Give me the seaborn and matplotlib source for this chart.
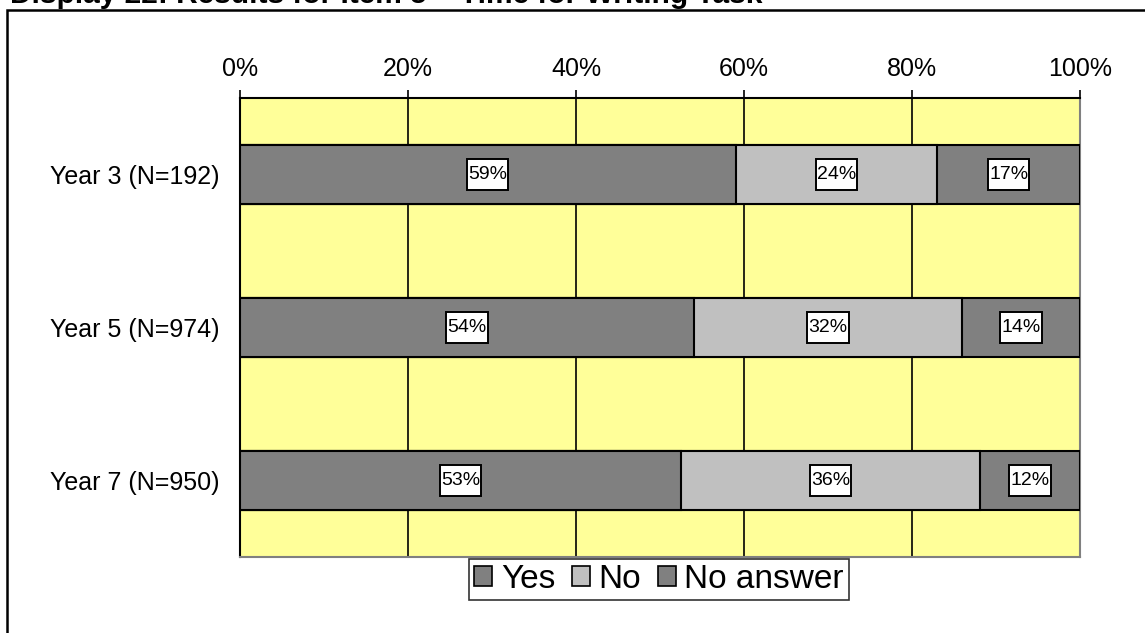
import matplotlib
matplotlib.use("Agg")
import numpy as np
import pandas as pd
import matplotlib.pyplot as plt
import matplotlib.patches as mpatches
from matplotlib.path import Path
import seaborn as sns

# Data
groups = ["Year 3 (N=192)", "Year 5 (N=974)", "Year 7 (N=950)"]
yes = [59, 54, 53]
no = [24, 32, 36]
no_answer = [17, 14, 12]
series_names = ["Yes", "No", "No answer"]
colors = ["#808080", "#C0C0C0", "#808080"]

df = pd.DataFrame({"Group": groups, "Yes": yes, "No": no, "No answer": no_answer})
total = df[series_names].sum(axis=1)
share = df[series_names].div(total, axis=0)
cum = share.cumsum(axis=1)

sns.set_style("white")
plt.rcParams["font.family"] = ["Liberation Sans", "DejaVu Sans"]
plt.rcParams["text.color"] = "black"
plt.rcParams["xtick.color"] = "black"
plt.rcParams["ytick.color"] = "black"


def tall_box(x0, y0, width, height, mutation_size):
    # label box: tight at the sides, roomy above and below
    px = 0.06 * mutation_size
    py = 0.34 * mutation_size
    return Path([(x0 - px, y0 - py), (x0 + width + px, y0 - py),
                 (x0 + width + px, y0 + height + py), (x0 - px, y0 + height + py),
                 (x0 - px, y0 - py)], closed=True)


fig = plt.figure(figsize=(11.45, 6.33), dpi=100)
ax = fig.add_axes([240 / 1145, 1 - 557 / 633, 840 / 1145, 459 / 633])
ax.set_facecolor("#FFFF99")

# stacked: draw cumulative totals from the back
for name, col in reversed(list(zip(series_names, colors))):
    sns.barplot(x=cum[name], y=df["Group"], orient="h", color=col, width=0.385,
                edgecolor="black", linewidth=1.5, saturation=1, ax=ax, zorder=3)

# value labels in white boxes
for i in range(len(groups)):
    start = 0
    for name in series_names:
        w = share.loc[i, name]
        ax.text(start + w / 2, i, f"{df.loc[i, name]}%", ha="center", va="center",
                fontsize=14, color="black", zorder=5,
                bbox=dict(boxstyle=tall_box, facecolor="white", edgecolor="black", linewidth=1.4))
        start += w

ax.set_xlim(0, 1)
ax.set_ylim(2.5, -0.5)
ax.set_xticks(np.linspace(0, 1, 6))
ax.set_xticklabels([f"{int(v * 100)}%" for v in np.linspace(0, 1, 6)])
ax.xaxis.tick_top()
ax.grid(axis="x", color="black", linewidth=1.2, zorder=0)
ax.set_axisbelow(True)
ax.set_xlabel("")
ax.set_ylabel("")
ax.tick_params(axis="x", labelsize=18, length=6, width=1.2, pad=6, color="black", labelcolor="black")
ax.tick_params(axis="y", labelsize=18, length=0, pad=15, labelcolor="black")
ax.set_yticks([-0.5, 0.5, 1.5, 2.5], minor=True)
ax.tick_params(axis="y", which="minor", length=7, width=1.2, color="black")
for s in ["left", "top"]:
    ax.spines[s].set_color("black")
    ax.spines[s].set_linewidth(1.5)
for s in ["right", "bottom"]:
    ax.spines[s].set_color("#808080")
    ax.spines[s].set_linewidth(1.5)

handles = [mpatches.Patch(facecolor=c, edgecolor="black", linewidth=1.2, label=n)
           for n, c in zip(series_names, colors)]
leg = fig.legend(handles=handles, loc="center", bbox_to_anchor=(659 / 1145, 1 - 579 / 633),
                 ncol=3, fontsize=24, frameon=True, fancybox=False, handlelength=0.55,
                 handleheight=0.55, handletextpad=0.25, columnspacing=0.5, borderpad=0.15,
                 borderaxespad=0, labelcolor="black")
leg.get_frame().set_edgecolor("black")
leg.get_frame().set_linewidth(1.2)

# outer frame and cut-off title
fig.patches.append(mpatches.Rectangle((7 / 1145, -0.05), 1.1, 1 - 10 / 633 + 0.05,
                                      transform=fig.transFigure, fill=False,
                                      edgecolor="black", linewidth=1.8))
fig.text(10 / 1145, 1 - 3 / 633, "Display 22: Results for Item 5 \u2013 Time for Writing Task",
         fontsize=21.5, fontweight="bold", va="baseline", ha="left", color="black")

fig.savefig("out.png", dpi=100)
